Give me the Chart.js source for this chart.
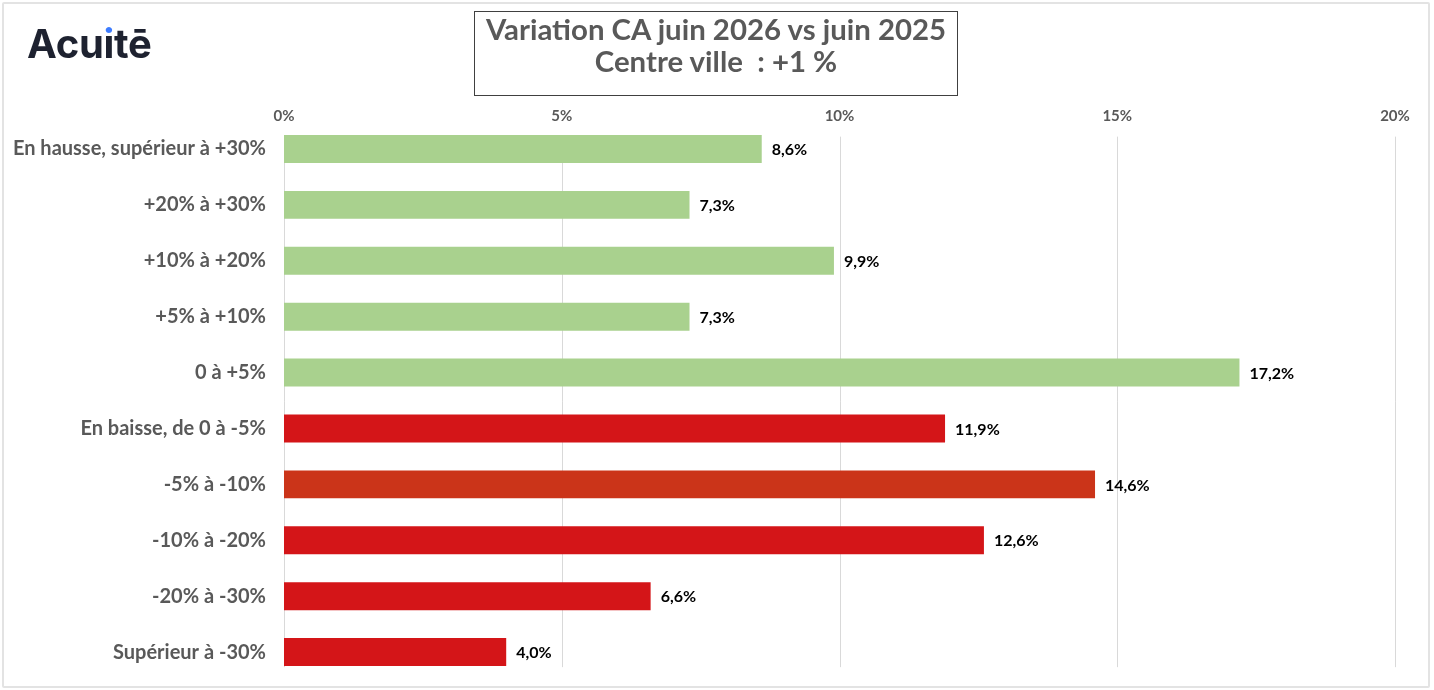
<!DOCTYPE html>
<html>
<head>
<meta charset="utf-8">
<script src="https://cdn.jsdelivr.net/npm/chart.js@4.4.1/dist/chart.umd.min.js"></script>
<style>
  html, body { margin: 0; padding: 0; background: #ffffff; }
  #wrap { position: relative; width: 1434px; height: 690px; overflow: hidden; }
  #frame { position: absolute; left: 2px; top: 2px; width: 1424px; height: 682px; border: 2px solid #e3e3e3; border-radius: 2px; }
  #logo { position: absolute; left: 27px; top: 20px; font-family: Inter, sans-serif; font-weight: 700; font-size: 40px; letter-spacing: -0.3px; color: #1e2230; line-height: 48px; }
  #logo .i { background: linear-gradient(to bottom, #3d7cff 0%, #3d7cff 32%, #1e2230 32%, #1e2230 100%);
             -webkit-background-clip: text; background-clip: text; color: transparent; }
  #title { position: absolute; left: 474px; top: 11px; width: 484px; height: 85px; border: 1px solid #404040; box-sizing: border-box;
           font-family: Lato, sans-serif; font-weight: 700; font-size: 29.4px; color: #595959; text-align: center; line-height: 32px; padding-top: 1px; }
  canvas { position: absolute; left: 0; top: 0; }
</style>
</head>
<body>
<div id="wrap">
  <div id="frame"></div>
  <canvas id="c" width="1434" height="690"></canvas>
  <div id="logo">Acu<span class="i">i</span>tē</div>
  <div id="title">Variation CA juin 2026 vs juin 2025<br>Centre ville&nbsp; : +1 %</div>
</div>
<script>
const categories = [
  "En hausse, supérieur à +30%",
  "+20% à +30%",
  "+10% à +20%",
  "+5% à +10%",
  "0 à +5%",
  "En baisse, de 0 à -5%",
  "-5% à -10%",
  "-10% à -20%",
  "-20% à -30%",
  "Supérieur à -30%"
];
const shares = [8.6, 7.3, 9.9, 7.3, 17.2, 11.9, 14.6, 12.6, 6.6, 4.0];
const barColors = ["#a9d18e", "#a9d18e", "#a9d18e", "#a9d18e", "#a9d18e",
                   "#d41518", "#cb3419", "#d41518", "#d41518", "#d41518"];
const xTicks = [0, 5, 10, 15, 20];

const fmt = v => v.toFixed(1).replace('.', ',') + '%';

const gridPlugin = {
  id: 'customGrid',
  beforeDatasetsDraw(chart) {
    const { ctx, scales: { x, y } } = chart;
    const step = y.getPixelForValue(1) - y.getPixelForValue(0);
    const top = y.getPixelForValue(0) - step * 0.22;
    const bottom = y.getPixelForValue(categories.length - 1) + step * 0.27;
    ctx.save();
    ctx.strokeStyle = '#d9d9d9';
    ctx.lineWidth = 1;
    xTicks.forEach(t => {
      const px = Math.round(x.getPixelForValue(t)) + 0.5;
      ctx.beginPath();
      ctx.moveTo(px, top);
      ctx.lineTo(px, bottom);
      ctx.stroke();
    });
    ctx.restore();
  }
};

const labelPlugin = {
  id: 'valueLabels',
  afterDatasetsDraw(chart) {
    const { ctx } = chart;
    const meta = chart.getDatasetMeta(0);
    ctx.save();
    ctx.font = 'bold 16px Lato, sans-serif';
    ctx.fillStyle = '#000000';
    ctx.textAlign = 'left';
    ctx.textBaseline = 'middle';
    meta.data.forEach((bar, i) => {
      ctx.fillText(fmt(shares[i]), bar.x + 10, bar.y + 1);
    });
    ctx.restore();
  }
};

new Chart(document.getElementById('c'), {
  type: 'bar',
  data: {
    labels: categories,
    datasets: [{
      data: shares,
      backgroundColor: barColors,
      borderWidth: 0,
      barPercentage: 0.5,
      categoryPercentage: 1.0
    }]
  },
  options: {
    indexAxis: 'y',
    responsive: false,
    animation: false,
    layout: { padding: { left: 0, right: 39, top: 0, bottom: 10 } },
    plugins: { legend: { display: false }, tooltip: { enabled: false } },
    scales: {
      x: {
        position: 'top',
        min: 0, max: 20,
        afterFit(axis) { axis.height = 121; axis.paddingLeft = 0; axis.paddingRight = 0; },
        grid: { display: false, drawTicks: false },
        border: { display: false },
        ticks: {
          stepSize: 5,
          padding: -4,
          color: '#595959',
          font: { family: 'Lato, sans-serif', size: 15, weight: 'bold' },
          callback: v => v + '%'
        }
      },
      y: {
        afterFit(axis) { axis.width = 284; axis.paddingTop = 0; axis.paddingBottom = 0; },
        grid: { display: false, drawTicks: false },
        border: { display: false },
        ticks: {
          padding: 18,
          color: '#595959',
          font: { family: 'Lato, sans-serif', size: 20, weight: 'bold' }
        }
      }
    }
  },
  plugins: [gridPlugin, labelPlugin]
});
</script>
</body>
</html>
